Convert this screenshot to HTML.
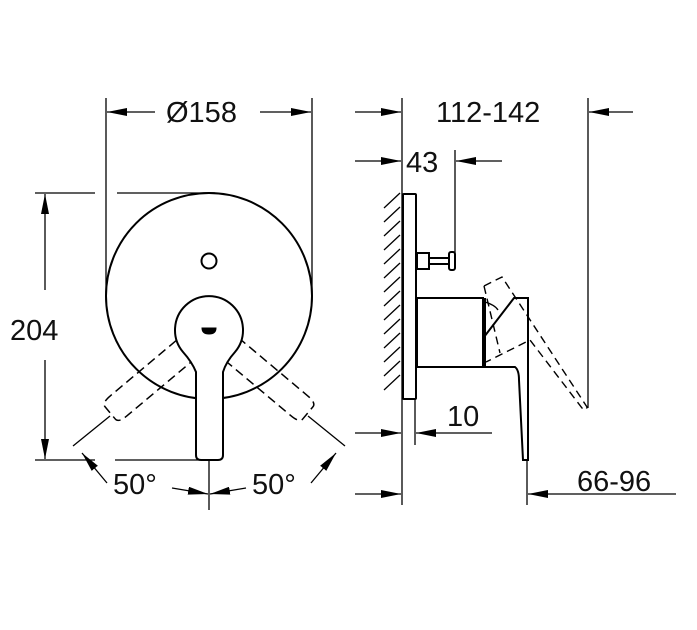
<!DOCTYPE html>
<html><head><meta charset="utf-8"><style>
html,body{margin:0;padding:0;background:#fff;}
svg{display:block}
text{font-family:"Liberation Sans",sans-serif;font-size:29px;fill:#111}
</style></head><body>
<svg width="697" height="630" viewBox="0 0 697 630" xmlns="http://www.w3.org/2000/svg">
<defs>
<marker id="a" viewBox="0 0 20 8" refX="20" refY="4" markerWidth="20" markerHeight="8" markerUnits="userSpaceOnUse" orient="auto"><path d="M0,0 L20,4 L0,8 z" fill="#000"/></marker>
</defs>
<g stroke="#000" fill="none" stroke-width="1.3">
<line x1="106" y1="98" x2="106" y2="300"/>
<line x1="312" y1="98" x2="312" y2="300"/>
<line x1="35" y1="193" x2="95" y2="193"/>
<line x1="117" y1="193" x2="215" y2="193"/>
<line x1="35" y1="460" x2="95" y2="460"/>
<line x1="115" y1="460" x2="200" y2="460"/>
<line x1="155" y1="112" x2="107" y2="112" marker-end="url(#a)"/>
<line x1="260" y1="112" x2="311" y2="112" marker-end="url(#a)"/>
<line x1="45" y1="290" x2="45" y2="194" marker-end="url(#a)"/>
<line x1="45" y1="360" x2="45" y2="459" marker-end="url(#a)"/>
<line x1="209" y1="460" x2="209" y2="510"/>
<line x1="172" y1="488" x2="208" y2="494" marker-end="url(#a)"/>
<line x1="246" y1="488" x2="210" y2="494" marker-end="url(#a)"/>
<line x1="110" y1="416" x2="73" y2="446"/>
<line x1="308" y1="416" x2="345" y2="446"/>
<line x1="107" y1="483" x2="82" y2="453" marker-end="url(#a)"/>
<line x1="311" y1="483" x2="336" y2="453" marker-end="url(#a)"/>
</g>
<g stroke="#000" fill="none" stroke-width="2">
<circle cx="209" cy="296" r="103" fill="#fff"/>
<circle cx="209" cy="261" r="7.5"/>
<g stroke-dasharray="9,5" stroke-width="1.5">
<g transform="rotate(50 209 330)"><path d="M196,362 L196,448 Q196,459 201,459 L217,459 Q222,459 222,448 L222,362"/></g>
<g transform="rotate(-50 209 330)"><path d="M196,362 L196,448 Q196,459 201,459 L217,459 Q222,459 222,448 L222,362"/></g>
</g>
<path d="M196,372 L196,455 Q196,460 201,460 L218,460 Q223,460 223,455 L223,372 Q226,362 235,352 A34,34 0 1 0 183,352 Q192,362 196,372 Z" fill="#fff"/>
<path d="M202,328 L216,328 Q216,334 209,334 Q202,334 202,328 Z" fill="#000" stroke-width="1"/>
</g>
<g stroke="#000" fill="none" stroke-width="1.3">
<line x1="402" y1="98" x2="402" y2="505"/>
<line x1="455" y1="150" x2="455" y2="253"/>
<line x1="588" y1="98" x2="588" y2="408"/>
<line x1="415" y1="399" x2="415" y2="445"/>
<line x1="527" y1="460" x2="527" y2="505"/>
<line x1="355" y1="112" x2="401" y2="112" marker-end="url(#a)"/>
<line x1="633" y1="112" x2="589" y2="112" marker-end="url(#a)"/>
<line x1="355" y1="161" x2="401" y2="161" marker-end="url(#a)"/>
<line x1="502" y1="161" x2="456" y2="161" marker-end="url(#a)"/>
<line x1="355" y1="433" x2="401" y2="433" marker-end="url(#a)"/>
<line x1="492" y1="433" x2="416" y2="433" marker-end="url(#a)"/>
<line x1="355" y1="494" x2="401" y2="494" marker-end="url(#a)"/>
<line x1="676" y1="494" x2="528" y2="494" marker-end="url(#a)"/>
<g>
<line x1="384" y1="208" x2="400" y2="193"/><line x1="384" y1="222" x2="400" y2="207"/>
<line x1="384" y1="236" x2="400" y2="221"/><line x1="384" y1="250" x2="400" y2="235"/>
<line x1="384" y1="264" x2="400" y2="249"/><line x1="384" y1="278" x2="400" y2="263"/>
<line x1="384" y1="292" x2="400" y2="277"/><line x1="384" y1="306" x2="400" y2="291"/>
<line x1="384" y1="320" x2="400" y2="305"/><line x1="384" y1="334" x2="400" y2="319"/>
<line x1="384" y1="348" x2="400" y2="333"/><line x1="384" y1="362" x2="400" y2="347"/>
<line x1="384" y1="376" x2="400" y2="361"/><line x1="384" y1="390" x2="400" y2="375"/>
</g>
</g>
<g stroke="#000" fill="none" stroke-width="2">
<rect x="403" y="194" width="13" height="205" rx="1"/>
<rect x="417" y="253" width="12" height="16"/>
<line x1="429" y1="258" x2="449" y2="258"/><line x1="429" y1="264" x2="449" y2="264"/>
<rect x="449" y="252" width="6" height="18" rx="2"/>
<rect x="417" y="298" width="66" height="69"/>
<path d="M485,298 L485,367 L515,367 Q519,370 519,380 L523,460 L528,460 L528,298 L514,298 L484,337"/>
<path d="M485,302 Q495,305 498,310" stroke-width="1.3"/>
<g stroke-dasharray="8,5" stroke-width="1.4">
<path d="M484,286 L502,277 L587,407 Q586,412 582,408 L530,340 L486,362"/>
<path d="M484,286 L500,353"/>
</g>
</g>
<text x="166" y="122">Ø158</text>
<text x="436" y="122">112-142</text>
<text x="406" y="172">43</text>
<text x="10" y="340">204</text>
<text x="447" y="426">10</text>
<text x="113" y="494">50°</text>
<text x="252" y="494">50°</text>
<text x="577" y="491">66-96</text>
</svg>
</body></html>
